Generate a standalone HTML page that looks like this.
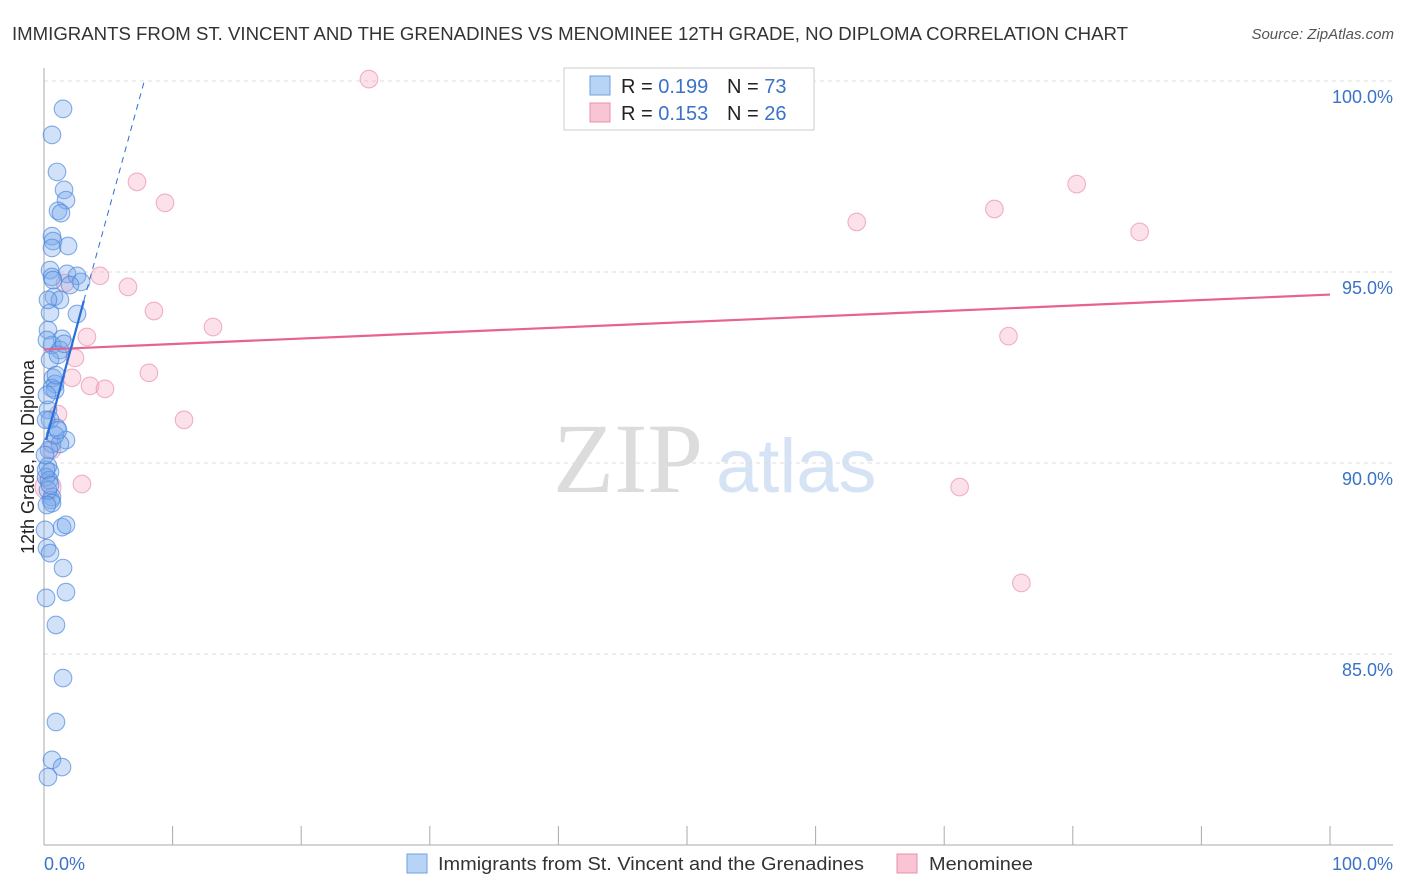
<!DOCTYPE html>
<html><head><meta charset="utf-8">
<style>
body{margin:0;background:#fff;font-family:"Liberation Sans",sans-serif;}
svg{display:block}
</style></head>
<body>
<svg id="chart" width="1406" height="892" xmlns="http://www.w3.org/2000/svg" font-family="Liberation Sans, sans-serif">
<text x="12" y="40" font-size="18" fill="#333" textLength="1116" lengthAdjust="spacingAndGlyphs">IMMIGRANTS FROM ST. VINCENT AND THE GRENADINES VS MENOMINEE 12TH GRADE, NO DIPLOMA CORRELATION CHART</text>
<text x="1394" y="39" font-size="15" fill="#555" font-style="italic" text-anchor="end">Source: ZipAtlas.com</text>
<g>
<text x="553" y="492" font-size="100" fill="#dcdcdc" font-family="Liberation Serif, serif">ZIP</text>
<text x="716" y="492" font-size="76" fill="#d5e3f5">atlas</text>
</g>
<g id="grid"></g>
<g id="axes"></g>
<g id="pts"></g>
<g id="lines"></g>
<text transform="translate(34,457) rotate(-90)" font-size="18" fill="#222" text-anchor="middle">12th Grade, No Diploma</text>
<g>
<rect x="564" y="68" width="250" height="62" fill="#fff" stroke="#ccc"/>
<rect x="590" y="76" width="20" height="19" fill="#b7d3f5" stroke="#6fa0dd"/>
<rect x="590" y="103" width="20" height="19" fill="#f9c5d5" stroke="#e890aa"/>
<text x="621" y="93" font-size="20" fill="#222">R = <tspan fill="#3a72c8">0.199</tspan></text>
<text x="727" y="93" font-size="20" fill="#222">N = <tspan fill="#3a72c8">73</tspan></text>
<text x="621" y="120" font-size="20" fill="#222">R = <tspan fill="#3a72c8">0.153</tspan></text>
<text x="727" y="120" font-size="20" fill="#222">N = <tspan fill="#3a72c8">26</tspan></text>
</g>
<g>
<rect x="407" y="854" width="20" height="19" fill="#b7d3f5" stroke="#6fa0dd"/>
<text x="438" y="870" font-size="18" fill="#333" textLength="426" lengthAdjust="spacingAndGlyphs">Immigrants from St. Vincent and the Grenadines</text>
<rect x="897" y="854" width="20" height="19" fill="#f9c5d5" stroke="#e890aa"/>
<text x="929" y="870" font-size="18" fill="#333" textLength="104" lengthAdjust="spacingAndGlyphs">Menominee</text>
</g>
</svg>
<script>
const yTicks=[100,95,90,85];
const yTickLabels=["100.0%","95.0%","90.0%","85.0%"];
const blueX=[1.48,0.62,1.01,1.56,1.71,1.09,1.32,0.62,0.70,1.87,0.62,0.47,1.79,2.57,0.62,2.88,0.70,0.78,0.47,2.57,0.31,1.40,0.62,1.24,0.47,0.70,0.86,0.62,0.31,0.47,1.01,1.71,0.62,1.24,0.31,0.47,0.16,0.39,0.62,0.54,0.62,1.40,1.71,0.23,0.47,1.48,0.16,1.71,0.93,1.48,0.93,0.62,1.40,0.31,0.16,0.31,0.86,1.09,0.23,0.16,0.39,0.86,0.08,1.24,2.02,0.31,0.23,0.93,1.09,0.47,0.23,1.56,0.08];
const blueY=[99.27,98.59,97.62,97.15,96.88,96.60,96.54,95.94,95.81,95.68,95.63,95.05,94.95,94.90,94.87,94.74,94.79,94.35,93.93,93.90,93.48,93.25,93.09,92.96,92.70,92.23,92.07,91.96,91.39,91.13,90.92,90.60,90.50,90.50,89.92,89.76,89.63,89.55,89.11,89.03,88.95,88.32,88.38,87.77,87.64,87.25,86.47,86.62,85.76,84.37,83.22,82.23,82.04,81.78,89.82,89.29,91.91,92.83,93.22,91.13,90.34,90.73,90.21,94.27,94.66,94.27,91.78,92.30,90.86,89.42,88.90,93.12,88.25];
const pinkX=[25.27,7.23,9.41,63.2,73.9,80.3,85.2,4.35,6.53,1.63,8.55,13.14,3.34,75.0,2.41,8.16,2.18,3.58,4.74,10.89,1.09,0.62,2.95,71.2,76.0,0.31];
const pinkY=[100.05,97.36,96.81,96.31,96.65,97.30,96.05,94.90,94.61,94.71,93.98,93.56,93.30,93.32,92.75,92.36,92.23,92.02,91.94,91.13,91.28,90.34,89.45,89.37,86.86,89.37];
const blueFit=[[0.16,90.6],[3.1,94.25],[7.8,100.0]];
const pinkFit=[[0,92.97],[100,94.41]];
const NS="http://www.w3.org/2000/svg";
const X=v=>44+v*12.86, Y=v=>81+(100-v)*38.2;
function mk(t,a,p){const e=document.createElementNS(NS,t);for(const k in a)e.setAttribute(k,a[k]);p.appendChild(e);return e;}
const grid=document.getElementById('grid'),axes=document.getElementById('axes'),pts=document.getElementById('pts'),lines=document.getElementById('lines');
yTicks.forEach((t,i)=>{
 const l=mk('line',{x1:44,x2:1393,y1:Y(t),y2:Y(t),stroke:'#ddd','stroke-dasharray':'4,4'},grid);
 
 
 const tx=mk('text',{x:1393,y:Y(t)+22,'font-size':18,fill:'#3a72c8','text-anchor':'end'},axes);
 tx.textContent=yTickLabels[i];
 
 
});
const ax=mk('line',{x1:44,x2:44,y1:68,y2:845,stroke:'#aaa'},axes);


const bx=mk('line',{x1:44,x2:1393,y1:845,y2:845,stroke:'#aaa'},axes);


for(let i=0;i<=10;i++){const t=mk('line',{x1:X(i*10),x2:X(i*10),y1:826,y2:845,stroke:'#aaa'},axes);
 
 }
[[0,"0.0%","start"],[100,"100.0%","end"]].forEach(d=>{const t=mk('text',{x:d[0]?1393:44,y:870,'font-size':18,fill:'#3a72c8','text-anchor':d[2]},axes);t.textContent=d[1];
 
 });
pinkX.forEach((v,i)=>{const c=mk('circle',{cx:X(v),cy:Y(pinkY[i]),r:i==25?13:8.8,fill:'rgba(246,170,195,0.35)',stroke:'rgba(232,140,170,0.65)','stroke-width':1.1},pts);
 
 });
blueX.forEach((v,i)=>{const c=mk('circle',{cx:X(v),cy:Y(blueY[i]),r:8.8,fill:'rgba(120,170,235,0.35)',stroke:'rgba(70,130,220,0.65)','stroke-width':1.1},pts);
 
 });
const pl=mk('line',{x1:X(pinkFit[0][0]),y1:Y(pinkFit[0][1]),x2:X(pinkFit[1][0]),y2:Y(pinkFit[1][1]),stroke:'#e8628f','stroke-width':2.2},lines);


const b1=mk('line',{x1:X(blueFit[0][0]),y1:Y(blueFit[0][1]),x2:X(blueFit[1][0]),y2:Y(blueFit[1][1]),stroke:'#2a6fd8','stroke-width':2.2},lines);


const b2=mk('line',{x1:X(blueFit[1][0]),y1:Y(blueFit[1][1]),x2:X(blueFit[2][0]),y2:Y(blueFit[2][1]),stroke:'#2a6fd8','stroke-width':1,'stroke-dasharray':'6,5'},lines);


</script>
</body></html>
